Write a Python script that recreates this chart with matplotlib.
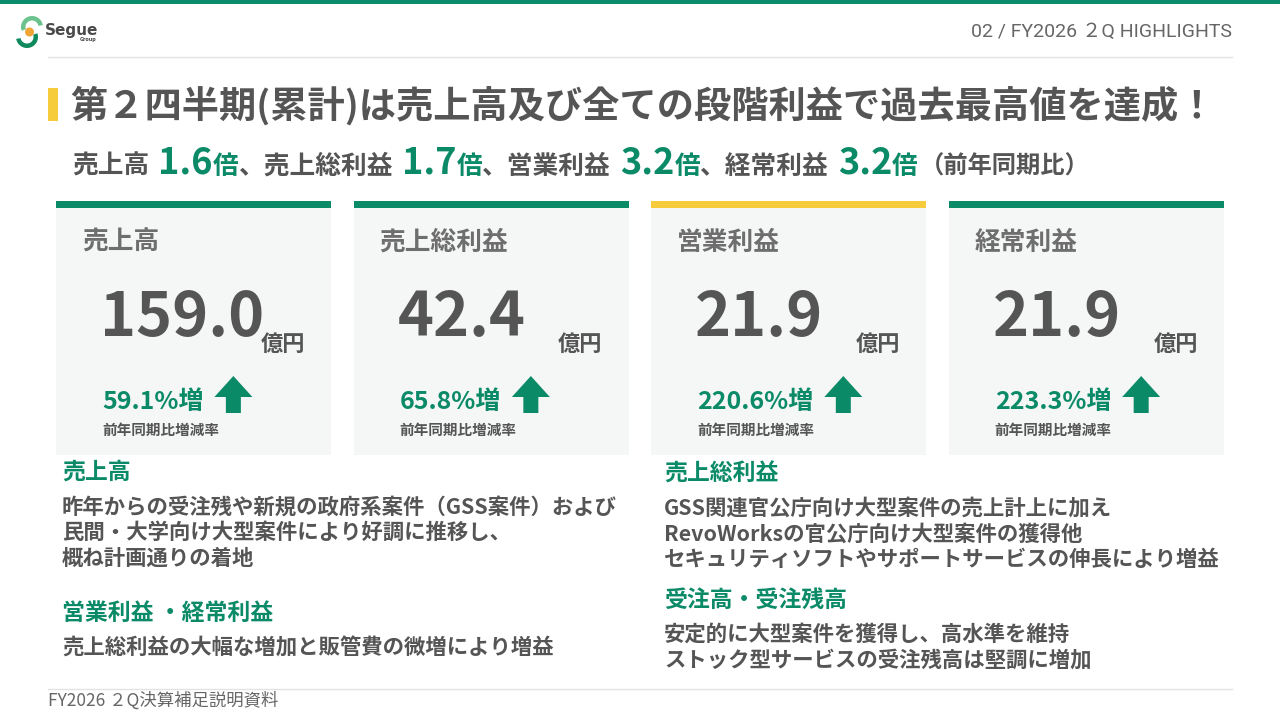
import matplotlib
matplotlib.use("Agg")
import matplotlib.pyplot as plt
from matplotlib.patches import Rectangle, FancyArrow, Wedge, Circle

plt.rcParams['font.family'] = ['Noto Sans CJK JP', 'DejaVu Sans']

GREEN = '#0b8a68'
YELLOW = '#f6cb3c'
GRAY = '#555555'
CARD_BG = '#f5f6f6'

# データ
header_text = '02 / FY2026 ２Q HIGHLIGHTS'
title_text = '第２四半期(累計)は売上高及び全ての段階利益で過去最高値を達成！'
multi_labels = ['売上高', '売上総利益', '営業利益', '経常利益']
multi_values = ['1.6', '1.7', '3.2', '3.2']

card_titles = ['売上高', '売上総利益', '営業利益', '経常利益']
card_values = ['159.0', '42.4', '21.9', '21.9']
card_growth = ['59.1%増', '65.8%増', '220.6%増', '223.3%増']
card_colors = [GREEN, GREEN, YELLOW, GREEN]
card_unit = '億円'
growth_note = '前年同期比増減率'

left_heads = ['売上高', '営業利益 ・経常利益']
left_bodies = [['昨年からの受注残や新規の政府系案件（GSS案件）および',
                '民間・大学向け大型案件により好調に推移し、',
                '概ね計画通りの着地'],
               ['売上総利益の大幅な増加と販管費の微増により増益']]
right_heads = ['売上総利益', '受注高・受注残高']
right_bodies = [['GSS関連官公庁向け大型案件の売上計上に加え',
                 'RevoWorksの官公庁向け大型案件の獲得他',
                 'セキュリティソフトやサポートサービスの伸長により増益'],
                ['安定的に大型案件を獲得し、高水準を維持',
                 'ストック型サービスの受注残高は堅調に増加']]
footer_text = 'FY2026 ２Q決算補足説明資料'

fig = plt.figure(figsize=(12.8, 7.2), dpi=100)
ax = fig.add_axes([0, 0, 1, 1])
ax.set_xlim(0, 1280)
ax.set_ylim(720, 0)
ax.axis('off')
fig.canvas.draw()
renderer = fig.canvas.get_renderer()


def put(x, y, s, **kw):
    # テキストを置いて右端のx座標を返す
    t = ax.text(x, y, s, **kw)
    bb = t.get_window_extent(renderer)
    return bb.x1


# ヘッダー
ax.add_patch(Rectangle((0, 0), 1280, 4, color='#0b8c6c', lw=0))
ax.plot([48, 1232], [57, 57], color='#e3e3e3', lw=1)
ax.text(1232, 32, header_text, ha='right', va='center', fontsize=14,
        color='#666666', family=['Roboto', 'Noto Sans CJK JP'])

# ロゴ
ax.add_patch(Wedge((32, 27), 11, 160, 350, width=4.5, color='#6cc38e', lw=0))
ax.add_patch(Wedge((27, 37), 11, -20, 170, width=4.5, color='#0e8a5c', lw=0))
ax.add_patch(Circle((29.5, 32), 4.5, color='#f0a535', lw=0))
ax.text(45, 31, 'Segue', ha='left', va='center', fontsize=11, weight='heavy',
        color='#4a4a4a', family=['DejaVu Sans'])
ax.text(97, 40, 'Group', ha='right', va='center', fontsize=3.5, weight='bold',
        color='#4a4a4a', family=['DejaVu Sans'])

# タイトル
ax.add_patch(Rectangle((48, 88), 10, 33, color=YELLOW, lw=0))
ax.text(70, 106, title_text, ha='left', va='center', fontsize=26.8,
        weight='bold', color=GRAY)

# サブタイトル
x = 72
ybase = 174
for i, (lab, val) in enumerate(zip(multi_labels, multi_values)):
    lead = lab if i == 0 else '、' + lab
    x = put(x, ybase, lead, ha='left', va='baseline', fontsize=18.5,
            weight='bold', color=GRAY) + 9
    x = put(x, ybase, val, ha='left', va='baseline', fontsize=26,
            weight='bold', color=GREEN)
    x = put(x, ybase, '倍', ha='left', va='baseline', fontsize=18.5,
            weight='bold', color=GREEN)
put(x + 2, ybase, '（前年同期比）', ha='left', va='baseline', fontsize=17.5,
    weight='bold', color=GRAY)

# カード
card_w = 275
pitch = 297.6
for i in range(4):
    x0 = 56 + i * pitch
    ax.add_patch(Rectangle((x0, 201), card_w, 7, color=card_colors[i], lw=0))
    ax.add_patch(Rectangle((x0, 208), card_w, 247, color=CARD_BG, lw=0))
    ax.text(x0 + 26, 242, card_titles[i], ha='left', va='center',
            fontsize=18.5, weight='bold', color='#6e6e6e')
    ax.text(x0 + 44, 336, card_values[i], ha='left', va='baseline',
            fontsize=44, weight='bold', color=GRAY)
    ax.text(x0 + 249, 344, card_unit, ha='right', va='center',
            fontsize=16, weight='bold', color=GRAY)
    xe = put(x0 + 46, 402, card_growth[i], ha='left', va='center',
             fontsize=18, weight='bold', color=GREEN)
    ax.add_patch(FancyArrow(xe + 30, 413, 0, -37, width=15, head_width=38,
                            head_length=21, length_includes_head=True,
                            color='#0b8a68', lw=0))
    ax.text(x0 + 46, 430, growth_note, ha='left', va='center',
            fontsize=10.5, weight='bold', color=GRAY)

# 下段の説明文
def block(x, y_heads, heads, bodies, y_lines):
    for h, yh, lines, ys in zip(heads, y_heads, bodies, y_lines):
        ax.text(x, yh, h, ha='left', va='center', fontsize=16.5,
                weight='bold', color=GREEN)
        for ln, yl in zip(lines, ys):
            ax.text(x, yl, ln, ha='left', va='center', fontsize=15.4,
                    weight='bold', color=GRAY)


block(62, [472, 613], left_heads, left_bodies, [[507, 532, 558], [648]])
block(664, [474, 600], right_heads, right_bodies, [[508, 534, 559], [634, 660]])

# フッター
ax.plot([48, 1232], [689, 689], color='#e3e3e3', lw=1)
ax.text(48, 701, footer_text, ha='left', va='center', fontsize=12.5,
        color='#666666')

fig.savefig('out.png', dpi=100)
